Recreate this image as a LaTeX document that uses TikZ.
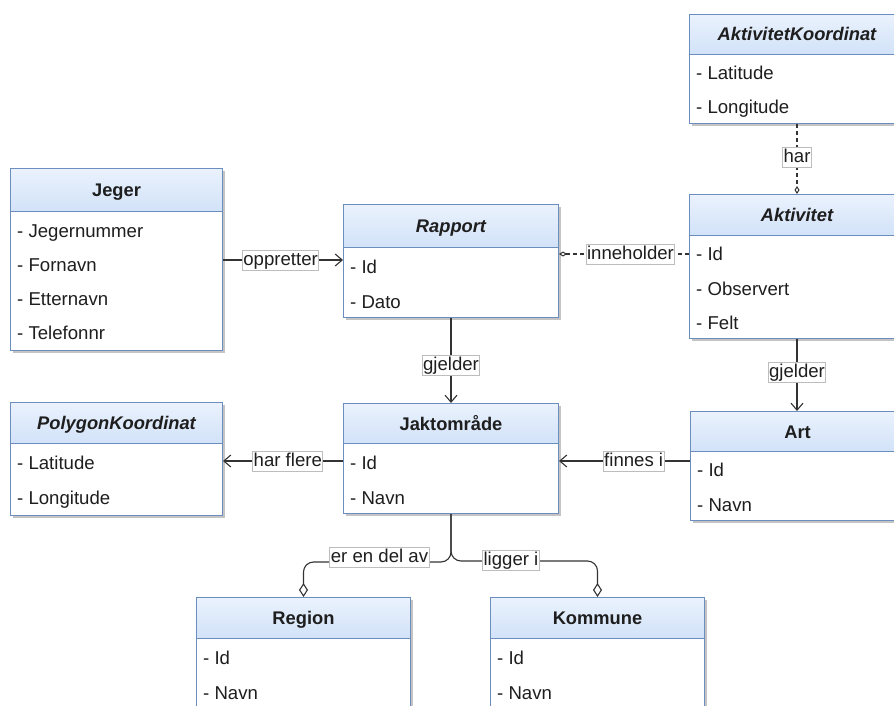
\documentclass[tikz,border=0pt]{standalone}
\usepackage{fontspec}
\setmainfont{Liberation Sans}
\usetikzlibrary{arrows.meta,calc}

\definecolor{bordc}{HTML}{6C8EBF}
\definecolor{hdrtop}{HTML}{EAF2FD}
\definecolor{hdrbot}{HTML}{D2E2F8}
\definecolor{linec}{HTML}{333333}
\definecolor{txtc}{HTML}{1E1E1E}
\definecolor{shadc}{HTML}{C4C4C4}
\definecolor{lblbord}{HTML}{BDBDBD}

\newcommand\txtfont{\fontsize{18.6}{21}\selectfont}
\newcommand\headfont{\fontsize{18.3}{21}\selectfont\bfseries}

\tikzset{
  classbox/.style={draw=bordc, line width=1pt, fill=white, inner sep=0pt, anchor=north west},
  classhead/.style={draw=bordc, line width=1pt, top color=hdrtop, bottom color=hdrbot,
    inner sep=0pt, anchor=north west, font=\headfont, text=txtc,
    text height=13pt, text depth=0pt},
  attr/.style={anchor=west, inner sep=0pt, font=\txtfont, text=txtc,
    text height=13pt, text depth=0pt},
  conn/.style={draw=linec, line width=1.1pt},
  dashconn/.style={conn, dash pattern=on 4pt off 3pt},
  lbl/.style={solid, fill=white, draw=lblbord, line width=0.9pt, inner sep=1pt, font=\txtfont, text=txtc,
    text height=14pt, text depth=4pt},
  openarrow/.style={-{Straight Barb[length=7pt,width=12pt,line width=1.1pt]}},
  smalldiamond/.style={{Diamond[open,length=8pt,width=5pt,line width=1pt]}-},
  smalldiamondend/.style={-{Diamond[open,length=8pt,width=5pt,line width=1pt]}},
  bigdiamond/.style={-{Diamond[open,length=14pt,width=9pt,line width=1.1pt]}},
}

% class box: name, left, top, width, height, header height, title
\newcommand\umlclass[7]{%
  \fill[shadc] (#2+3,#3+3) rectangle ++(#4,#5);
  \node[classbox, minimum width=#4pt, minimum height=#5pt] (#1) at (#2,#3) {};
  \node[classhead, minimum width=#4pt, minimum height=#6pt] (#1-h) at (#2,#3) {#7};
}

\begin{document}
\begin{tikzpicture}[x=1pt, y=-1pt]
\useasboundingbox (0,0) rectangle (894,706);
\clip (0,0) rectangle (894,706);

% ---- classes ----
\umlclass{jeger}{10}{168}{212}{182}{43}{Jeger}
\node[attr] (jeger-a1) at (17,231) {- Jegernummer};
\node[attr] (jeger-a2) at (17,265) {- Fornavn};
\node[attr] (jeger-a3) at (17,299) {- Etternavn};
\node[attr] (jeger-a4) at (17,333) {- Telefonnr};

\umlclass{rapport}{343}{204}{215}{113}{43}{\itshape Rapport}
\node[attr] (rapport-a1) at (350,267) {- Id};
\node[attr] (rapport-a2) at (350,302) {- Dato};

\umlclass{akk}{689}{14}{215}{109}{40}{\itshape AktivitetKoordinat}
\node[attr] (akk-a1) at (696,73) {- Latitude};
\node[attr] (akk-a2) at (696,107) {- Longitude};

\umlclass{akt}{689}{194}{215}{144}{41}{\itshape Aktivitet}
\node[attr] (akt-a1) at (696,254) {- Id};
\node[attr] (akt-a2) at (696,289) {- Observert};
\node[attr] (akt-a3) at (696,323) {- Felt};

\umlclass{poly}{10}{402}{212}{113}{41}{\itshape PolygonKoordinat}
\node[attr] (poly-a1) at (17,463) {- Latitude};
\node[attr] (poly-a2) at (17,498) {- Longitude};

\umlclass{jak}{343}{403}{215}{110}{40}{Jaktområde}
\node[attr] (jak-a1) at (350,463) {- Id};
\node[attr] (jak-a2) at (350,498) {- Navn};

\umlclass{art}{690}{411}{214}{109}{40}{Art}
\node[attr] (art-a1) at (697,470) {- Id};
\node[attr] (art-a2) at (697,505) {- Navn};

\umlclass{region}{196}{597}{214}{130}{41}{Region}
\node[attr] (region-a1) at (203,658) {- Id};
\node[attr] (region-a2) at (203,693) {- Navn};

\umlclass{kommune}{490}{597}{214}{130}{41}{Kommune}
\node[attr] (kommune-a1) at (497,658) {- Id};
\node[attr] (kommune-a2) at (497,693) {- Navn};

% ---- associations ----
\draw[conn, openarrow] (jeger.east |- 0,260) -- (rapport.west |- 0,260)
  node[lbl, pos=0.48] (l-opp) {oppretter};

\draw[dashconn, smalldiamond] (rapport.east |- akt-a1) -- (akt.west |- akt-a1)
  node[lbl, pos=0.55] (l-inn) {inneholder};

\draw[dashconn, smalldiamondend] (akk.south) -- (akk.south |- akt.north)
  node[lbl, pos=0.48] (l-har) {har};

\draw[conn, openarrow] (rapport.south) -- (rapport.south |- jak.north)
  node[lbl, pos=0.56] (l-gj1) {gjelder};

\draw[conn, openarrow] (akt.south) -- (akt.south |- art.north)
  node[lbl, pos=0.47] (l-gj2) {gjelder};

\draw[conn, openarrow] (art.west |- 0,461) -- (jak.east |- 0,461)
  node[lbl, pos=0.43] (l-fin) {finnes i};

\draw[conn, openarrow] (jak.west |- 0,461) -- (poly.east |- 0,461)
  node[lbl, pos=0.46] (l-hf) {har flere};

\draw[conn, bigdiamond, rounded corners=10pt] (jak.south) -- ++(0,48) -| (region.north);
\draw[conn, bigdiamond, rounded corners=10pt] (jak.south) -- ++(0,47) -| (kommune.north);
\node[lbl] (l-del) at (379.5,557) {er en del av};
\node[lbl] (l-lig) at (511,560) {ligger i};
\end{tikzpicture}
\end{document}
